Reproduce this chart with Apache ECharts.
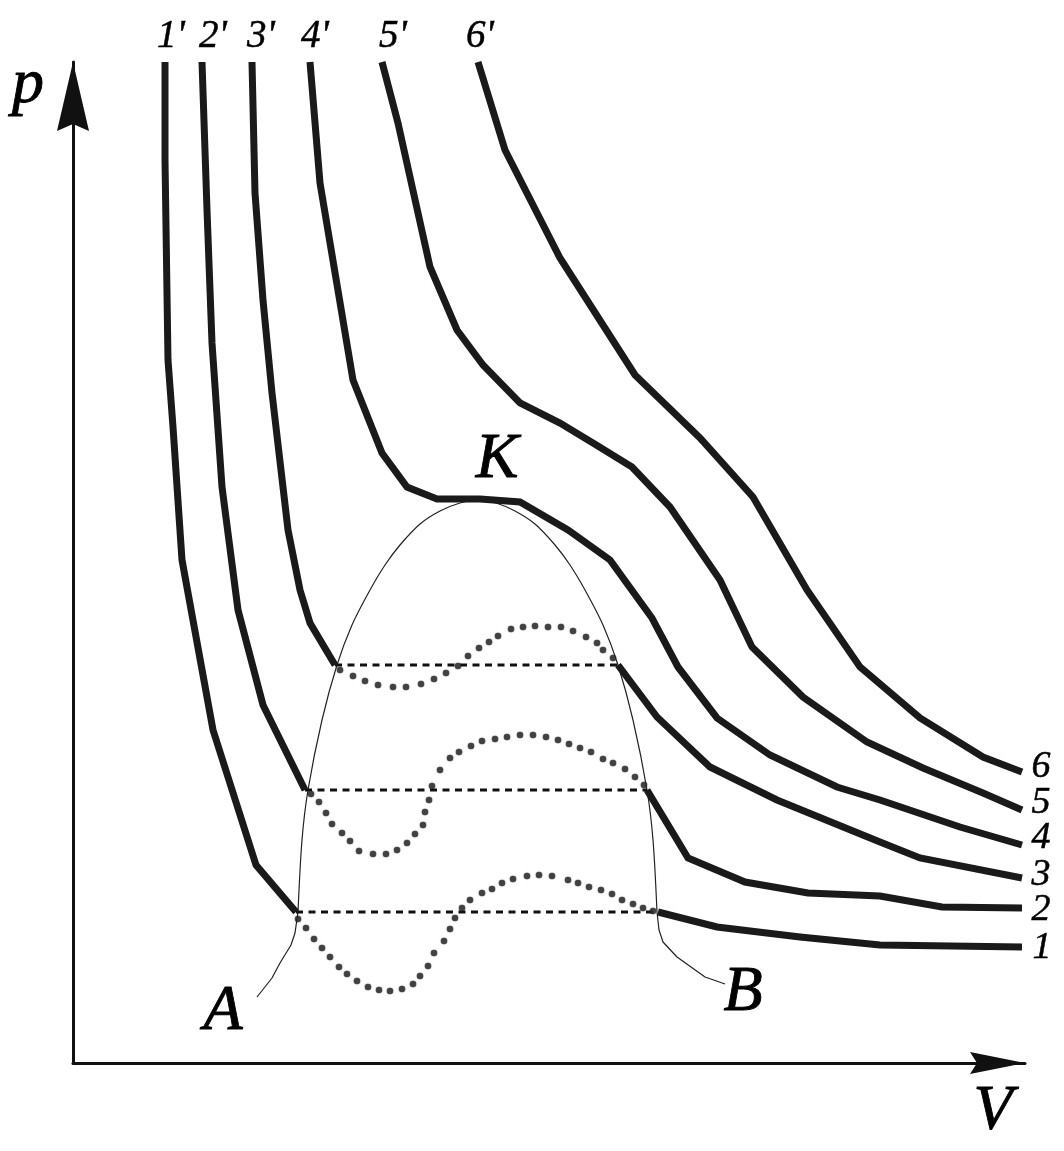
<!DOCTYPE html>
<html><head><meta charset="utf-8">
<script src="https://cdn.jsdelivr.net/npm/echarts@6/dist/echarts.min.js"></script>
<style>html,body{margin:0;padding:0;background:#fff}#c{width:1064px;height:1151px}
#fontprobe{position:absolute;left:-9999px;top:0;font-family:'Liberation Serif';font-style:italic;font-size:40px}</style>
</head><body><div id="fontprobe">KABpV 1' 2' 3' 4' 5' 6'</div><div id="c"></div>
<script>
// Values: [V, p] in arbitrary units (axis 0..952, 0..1001)
const iso1Left  = [[92,1001],[92,903],[95,703],[100,636],[109,503],[140,333],[183,198],[223,151]];
const iso1Right = [[585,151],[644,136],[727,126],[807,118],[949,116]];
const iso2Left  = [[129,1001],[134,853],[139,720],[149,576],[165,453],[190,358],[232,273]];
const iso2Right = [[574,273],[615,205],[672,181],[735,170],[807,167],[869,156],[949,155]];
const iso3Left  = [[179,1001],[182,870],[190,763],[199,670],[215,533],[227,473],[237,440],[262,398]];
const iso3Right = [[545,398],[584,346],[637,296],[704,263],[807,221],[847,205],[949,185]];
const iso4 = [[237,1001],[247,880],[280,683],[309,610],[334,576],[364,564],[407,564],[447,561],[495,533],[537,503],[579,445],[605,396],[644,345],[697,308],[764,276],[807,263],[887,236],[949,218]];
const iso5 = [[309,1001],[325,940],[357,796],[384,733],[410,698],[447,660],[487,640],[520,620],[559,596],[597,556],[647,483],[679,416],[730,366],[794,321],[850,295],[910,270],[949,253]];
const iso6 = [[405,1001],[432,913],[487,805],[562,688],[627,625],[680,566],[734,473],[787,396],[847,345],[910,306],[949,291]];

const tie1 = [[223,151],[585,151]];
const tie2 = [[232,273],[574,273]];
const tie3 = [[262,398],[545,398]];

const loop1 = [[225,144],[233,135],[241,124],[249,115],[257,106],[266,96],[274,89],[284,82],[295,76],[306,73],[317,72],[329,74],[340,79],[347,87],[355,97],[361,110],[371,122],[377,134],[382,145],[389,155],[397,163],[409,170],[419,174],[429,180],[440,184],[454,187],[466,188],[479,187],[495,183],[505,180],[516,176],[528,173],[539,169],[549,163],[560,159],[570,155],[580,152]];
const loop2 = [[238,269],[246,261],[253,250],[259,239],[269,230],[277,222],[286,212],[300,209],[313,209],[324,213],[334,220],[342,229],[350,238],[352,251],[356,263],[359,277],[367,293],[377,305],[386,311],[398,317],[409,322],[422,324],[434,326],[447,328],[460,328],[473,326],[485,323],[496,319],[507,315],[518,311],[530,304],[540,300],[552,294],[562,286],[571,278]];
const loop3 = [[267,393],[280,387],[292,382],[305,378],[320,376],[333,376],[348,379],[361,384],[373,390],[385,397],[395,407],[406,415],[416,421],[425,427],[438,434],[450,436],[462,437],[475,436],[488,436],[500,432],[513,426],[524,420],[530,413],[540,405]];

const binodalTailA = [[184,66],[199,85],[207,100],[218,118],[222,130],[225,151]];
const binodalDome  = [[225,151],[229,223],[235,273],[249,343],[264,398],[279,438],[297,473],[312,498],[327,518],[347,539],[367,552],[387,560],[405,563],[423,560],[442,552],[462,539],[482,518],[497,498],[512,473],[530,438],[545,398],[560,343],[574,273],[580,223],[584,151]];
const binodalTailB = [[584,151],[586,133],[590,121],[604,106],[632,86],[652,79]];

const topLabels   = ["1'","2'","3'","4'","5'","6'"];
const topLabelPos = [[98,1026],[140,1026],[188,1026],[242,1026],[320,1026],[407,1026]];
const endLabels   = ["6","5","4","3","2","1"];
const endLabelPos = [[968,296],[968,260],[968,225],[968,188],[968,153],[969,115]];
const letterLabels   = ["p","V","K","A","B"];
const letterLabelPos = [[-45,978],[920,-49],[424,603],[150,51],[670,70]];

const INK = '#1a1a1a';
const SERIF = 'Liberation Serif';

function thick(data){
  return {type:'line', data, symbol:'none', silent:true, z:5,
    lineStyle:{color:INK, width:7, join:'miter', cap:'butt'}};
}
function dashed(data){
  return {type:'line', data, symbol:'none', silent:true, z:4,
    lineStyle:{color:'#111', width:3, type:[7,5.5], cap:'butt'}};
}
function dots(data){
  return {type:'scatter', data, symbol:'circle', symbolSize:6.5, silent:true, z:6, clip:false,
    itemStyle:{color:'#2b2b2b', shadowBlur:1.5, shadowColor:'rgba(0,0,0,0.5)'}};
}
function thin(data, smooth){
  return {type:'line', data, symbol:'none', smooth:smooth, silent:true, z:3,
    lineStyle:{color:'#222', width:1.2}};
}

let chart = null;
function render(){
  if (chart) chart.dispose();
  chart = echarts.init(document.getElementById('c'), null, {renderer:'canvas'});
  chart.setOption({
    animation:false,
    backgroundColor:'#fff',
    grid:{left:73, top:62, width:952, height:1001, containLabel:false},
    xAxis:{type:'value', min:0, max:952, splitLine:{show:false}, axisTick:{show:false}, axisLabel:{show:false},
      axisLine:{show:true, lineStyle:{color:'#111', width:3},
        symbol:['none','path://M0,0L11,55L0,48L-11,55Z'], symbolSize:[22,55], symbolOffset:[0,-27.5]}},
    yAxis:{type:'value', min:0, max:1001, splitLine:{show:false}, axisTick:{show:false}, axisLabel:{show:false},
      axisLine:{show:true, lineStyle:{color:'#111', width:3},
        symbol:['none','path://M0,0L16,69L0,62L-16,69Z'], symbolSize:[33,69], symbolOffset:[0,-34.5]}},
    series:[
      thin(binodalTailA, false), thin(binodalDome, 0.3), thin(binodalTailB, false),
      dashed(tie1), dashed(tie2), dashed(tie3),
      dots(loop1), dots(loop2), dots(loop3),
      thick(iso1Left), thick(iso1Right), thick(iso2Left), thick(iso2Right),
      thick(iso3Left), thick(iso3Right), thick(iso4), thick(iso5), thick(iso6)
    ]
  });
  // Text labels placed through the chart's own scales
  function textEls(names, pos, size, border){
    return names.map((n,i)=>{
      const px = chart.convertToPixel({gridIndex:0}, pos[i]);
      return {type:'text', x:px[0], y:px[1], silent:true, z:100,
        style:{text:n, fontFamily:SERIF, fontStyle:'italic', fontSize:size, fill:'#000',
          stroke:'#000', lineWidth:border, align:'center', verticalAlign:'middle'}};
    });
  }
  chart.setOption({
    graphic: [].concat(
      textEls(topLabels, topLabelPos, 39, 0.5),
      textEls(endLabels, endLabelPos, 38, 0.5),
      textEls(letterLabels, letterLabelPos, 64, 0.9)
    )
  });
}
render();
if (document.fonts && document.fonts.load) {
  Promise.all([
    document.fonts.load("italic 40px 'Liberation Serif'"),
    document.fonts.load("italic 64px 'Liberation Serif'")
  ]).then(render, render);
  document.fonts.ready.then(render);
}
</script></body></html>
